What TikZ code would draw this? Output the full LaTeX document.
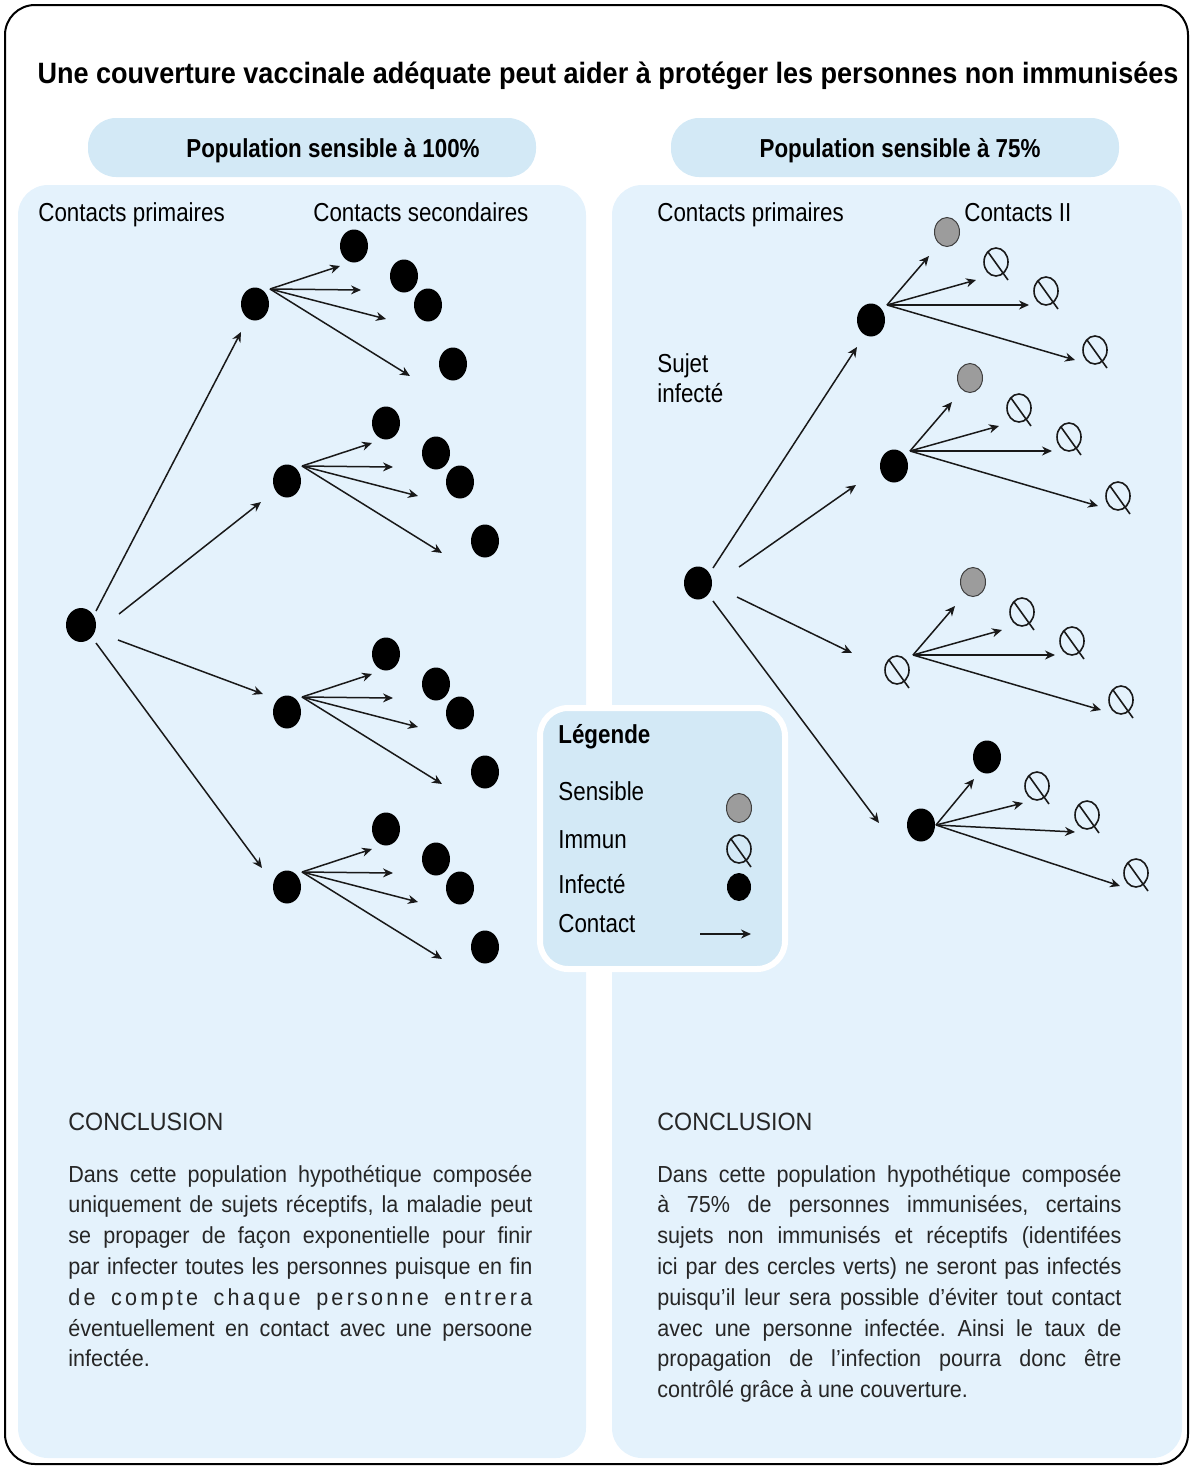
\documentclass[tikz,border=0pt]{standalone}
\usepackage{fontspec}
\setmainfont{Liberation Sans}
\newfontfamily\lab{Liberation Sans}[FakeStretch=0.86]
\newfontfamily\ttl{Liberation Sans}[FakeStretch=0.92]
\newfontfamily\bod{Liberation Sans}[FakeStretch=0.93]
\usetikzlibrary{arrows.meta,shapes.geometric,calc}
\definecolor{panelc}{HTML}{E4F2FC}
\definecolor{pillc}{HTML}{D3E9F6}
\definecolor{sensc}{HTML}{9C9C9C}
\frenchspacing
\begin{document}
\begin{tikzpicture}[x=0.5pt,y=-0.5pt,
  inf/.style={ellipse, fill=black, draw=none, inner sep=0pt, outer sep=0pt, minimum width=14pt, minimum height=16.5pt},
  sens/.style={ellipse, fill=sensc, draw=black!75, line width=0.5pt, inner sep=0pt, minimum width=12.5pt, minimum height=14.5pt},
  imm/.style={ellipse, draw=black!90, line width=0.8pt, inner sep=0pt, minimum width=12pt, minimum height=14pt},
  immline/.style={draw=black!90, line width=0.8pt},
  arr/.style={draw=black!90, line width=0.75pt, -{Stealth[length=5pt,width=4.5pt]}},
  lbl/.style={anchor=base west, inner sep=0pt, font=\lab\fontsize{13}{15}\selectfont},
  hdr/.style={anchor=base, inner sep=0pt, font=\lab\bfseries\fontsize{13}{15}\selectfont},
  body/.style={anchor=base west, inner sep=0pt, text=black!85, font=\bod\fontsize{11.6}{15.4}\selectfont},
  conc/.style={anchor=base west, inner sep=0pt, text=black!85, font=\bod\fontsize{12.5}{15}\selectfont}
]
\useasboundingbox (0,0) rectangle (1192,1467);
% frame and panels
\draw[line width=1pt, rounded corners=15pt] (5,5) rectangle (1188,1464);
\fill[panelc, rounded corners=15pt] (18,185) rectangle (586,1458);
\fill[panelc, rounded corners=15pt] (612,185) rectangle (1182,1458);
\fill[pillc, rounded corners=14pt] (88,118) rectangle (536,177);
\fill[pillc, rounded corners=14pt] (671,118) rectangle (1119,177);
% texts
\node[anchor=base, inner sep=0pt, font=\ttl\bfseries\fontsize{14.7}{17}\selectfont] (title) at (608,83) {Une couverture vaccinale adéquate peut aider à protéger les personnes non immunisées};
\node[hdr] (h1) at (333,157) {Population sensible à 100\%};
\node[hdr] (h2) at (900,157) {Population sensible à 75\%};
\node[lbl] (cp1) at (38,221) {Contacts primaires};
\node[lbl] (cs1) at (313,221) {Contacts secondaires};
\node[lbl] (cp2) at (657,221) {Contacts primaires};
\node[lbl] (cs2) at (964,221) {Contacts II};
\node[lbl] (suj) at (657,372) {Sujet};
\node[lbl] (inf) at (657,402) {infecté};
% left tree
\node[inf, minimum width=15pt, minimum height=17pt] (L0) at (81,625) {};
\node[inf] (L1) at (255,304) {};
\node[inf] (L2) at (287,481) {};
\node[inf] (L3) at (287,712) {};
\node[inf] (L4) at (287,887) {};
\foreach \p/\sx/\sy/\tx/\ty in {1/15/-14/-14/28, 2/38/-11/-26/21, 3/37/15/-24/-18, 4/15/18/-25/-19}{
  \coordinate (Ls\p) at ($(L0)+(\sx,\sy)$);
  \coordinate (Lr\p) at ($(L\p)+(\tx,\ty)$);
  \draw[arr] (Ls\p) -- (Lr\p);
}
\foreach \p in {1,2,3,4}{
  \foreach \j/\dx/\dy in {1/99/-58,2/149/-28,3/173/1,4/198/60}{
    \node[inf] (L\p\j) at ($(L\p)+(\dx,\dy)$) {};
  }
  \coordinate (Lo\p) at ($(L\p)+(15,-15)$);
  \foreach \j/\dx/\dy in {1/85/-38,2/106/-14,3/131/15,4/155/72}{
    \coordinate (Lt\p\j) at ($(L\p)+(\dx,\dy)$);
    \draw[arr] (Lo\p) -- (Lt\p\j);
  }
}
% right tree
\node[inf] (R0) at (698,583) {};
\node[inf] (Q1) at (871,320) {};
\node[inf] (Q2) at (894,466) {};
\node[imm] (Q3) at (897,670) {};
\node[inf] (Q4) at (921,825) {};
\foreach \p/\sx/\sy/\tx/\ty in {1/15/-15/-14/27, 2/41/-16/-38/19, 3/39/14/-45/-17, 4/15/18/-42/-2}{
  \coordinate (Rs\p) at ($(R0)+(\sx,\sy)$);
  \coordinate (Rr\p) at ($(Q\p)+(\tx,\ty)$);
  \draw[arr] (Rs\p) -- (Rr\p);
}
\foreach \g in {1,2,3}{
  \node[sens] (S\g) at ($(Q\g)+(76,-88)$) {};
  \foreach \j/\dx/\dy in {1/125/-58,2/175/-29,3/224/30}{
    \node[imm] (I\g\j) at ($(Q\g)+(\dx,\dy)$) {};
  }
  \coordinate (Qo\g) at ($(Q\g)+(16,-15)$);
  \foreach \j/\dx/\dy in {1/58/-64,2/105/-40,3/158/-15,4/204/40}{
    \coordinate (Qt\g\j) at ($(Q\g)+(\dx,\dy)$);
    \draw[arr] (Qo\g) -- (Qt\g\j);
  }
}
\node[inf] (S4) at ($(Q4)+(66,-68)$) {};
\foreach \j/\dx/\dy in {1/116/-39,2/166/-10,3/215/48}{
  \node[imm] (I4\j) at ($(Q4)+(\dx,\dy)$) {};
}
\coordinate (Qo4) at ($(Q4)+(15,0)$);
\foreach \j/\dx/\dy in {1/53/-46,2/102/-22,3/154/7,4/199/61}{
  \coordinate (Qt4\j) at ($(Q4)+(\dx,\dy)$);
  \draw[arr] (Qo4) -- (Qt4\j);
}
% legend
\draw[fill=pillc, draw=white, line width=3pt, rounded corners=14pt] (540,708) rectangle (785,969);
\node[lbl, font=\lab\bfseries\fontsize{13}{15}\selectfont] (lt) at (558,743) {Légende};
\node[lbl] (l1) at (558,800) {Sensible};
\node[lbl] (l2) at (558,848) {Immun};
\node[lbl] (l3) at (558,893) {Infecté};
\node[lbl] (l4) at (558,932) {Contact};
\node[sens] (LS) at (739,808) {};
\node[imm] (LI) at (739,849) {};
\node[inf, minimum width=12pt, minimum height=14pt] (LF) at (739,887) {};
\coordinate (la) at (700,934);
\coordinate (lb) at (751,934);
\draw[arr] (la) -- (lb);
\foreach \n in {Q3,I11,I12,I13,I21,I22,I23,I31,I32,I33,I41,I42,I43,LI}{
  \draw[immline] ($(\n)+(-8,-10)$) -- ($(\n)+(12,18)$);
}
% conclusions
\node[conc] (c1) at (68,1130) {CONCLUSION};
\node[conc] (c2) at (657,1130) {CONCLUSION};
\node[body] (t1) at (68,1182) {\parbox[t]{232pt}{%
\makebox[232pt][s]{Dans cette population hypothétique composée}\\
\makebox[232pt][s]{uniquement de sujets réceptifs, la maladie peut}\\
\makebox[232pt][s]{se propager de façon exponentielle pour finir}\\
\makebox[232pt][s]{par infecter toutes les personnes puisque en fin}\\
\makebox[232pt][s]{\addfontfeature{LetterSpace=14}de compte chaque personne entrera}\\
\makebox[232pt][s]{éventuellement en contact avec une persoone}\\
infectée.}};
\node[body] (t2) at (657,1182) {\parbox[t]{232pt}{%
\makebox[232pt][s]{Dans cette population hypothétique composée}\\
\makebox[232pt][s]{à 75\% de personnes immunisées, certains}\\
\makebox[232pt][s]{sujets non immunisés et réceptifs (identifées}\\
\makebox[232pt][s]{ici par des cercles verts) ne seront pas infectés}\\
\makebox[232pt][s]{puisqu’il leur sera possible d’éviter tout contact}\\
\makebox[232pt][s]{avec une personne infectée. Ainsi le taux de}\\
\makebox[232pt][s]{propagation de l’infection pourra donc être}\\
contrôlé grâce à une couverture.}};
\end{tikzpicture}
\end{document}
